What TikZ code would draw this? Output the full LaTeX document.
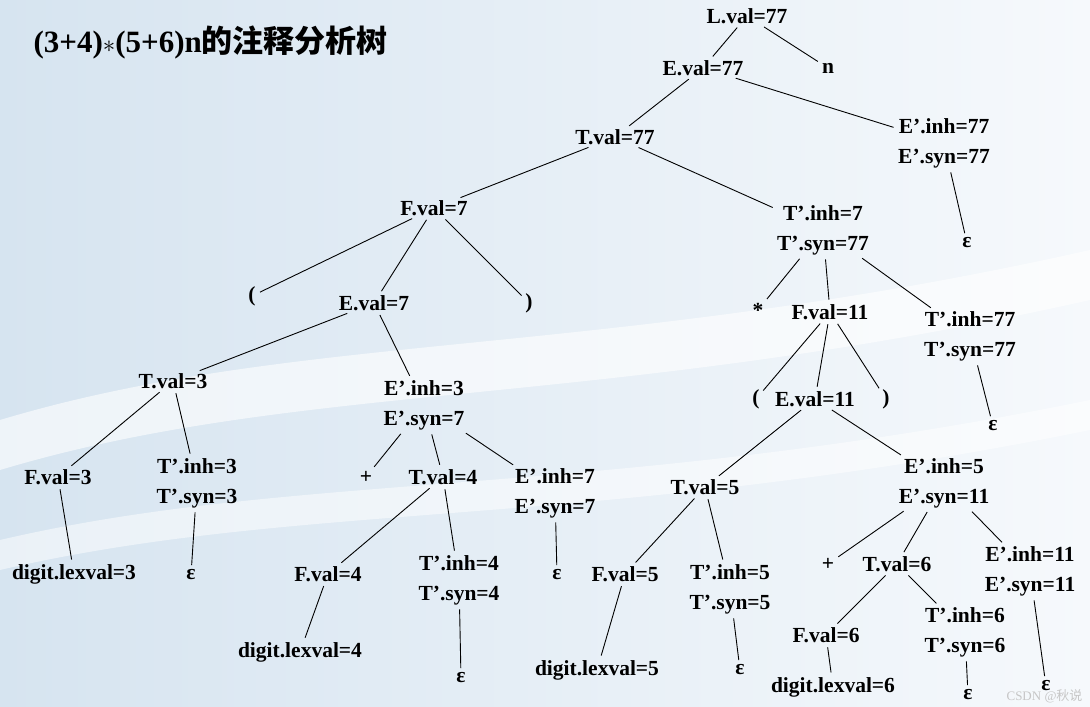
\documentclass[tikz,border=0pt]{standalone}
\usepackage{fontspec}
\setmainfont{Liberation Serif}
\newfontfamily\cjk{Noto Sans CJK SC}
\begin{document}
\begin{tikzpicture}[x=1pt,y=-1pt,
  nd/.style={font=\bfseries\fontsize{21.5}{30}\selectfont,align=center,inner sep=1.5pt},
  ln/.style={line width=0.9pt}]
\useasboundingbox (0,0) rectangle (1090,707);
\shade[left color={rgb,255:red,214;green,228;blue,240},right color={rgb,255:red,246;green,249;blue,252}] (0,0) rectangle (1090,707);
\fill[white,opacity=0.6] (0,420) .. controls (300,330) and (600,360) .. (1090,250) -- (1090,300) .. controls (600,410) and (300,380) .. (0,470) -- cycle;
\fill[white,opacity=0.5] (0,540) .. controls (300,470) and (600,500) .. (1090,400) -- (1090,430) .. controls (600,530) and (300,500) .. (0,570) -- cycle;
\node[anchor=west,font=\bfseries\fontsize{31}{34}\selectfont] (title) at (30,42) {(3+4)$\ast$(5+6)n{\cjk\bfseries 的注释分析树}};
\node[nd] (L) at (747,16) {L.val=77};
\node[nd] (n) at (828,68) {n};
\node[nd] (E) at (703,68) {E.val=77};
\node[nd] (T1) at (615,137) {T.val=77};
\node[nd] (Ep1) at (944,143) {E’.inh=77\\E’.syn=77};
\node[nd] (e1) at (967,243) {ε};
\node[nd] (F1) at (434,208) {F.val=7};
\node[nd] (Tp1) at (823,230) {T’.inh=7\\T’.syn=77};
\node[nd] (lp1) at (252,296) {(};
\node[nd] (E2) at (374,303) {E.val=7};
\node[nd] (rp1) at (529,303) {)};
\node[nd] (star) at (758,310) {*};
\node[nd] (F2) at (830,312) {F.val=11};
\node[nd] (Tp2) at (970,336) {T’.inh=77\\T’.syn=77};
\node[nd] (e2) at (993,426) {ε};
\node[nd] (T3) at (173,381) {T.val=3};
\node[nd] (Ep3) at (424,405) {E’.inh=3\\E’.syn=7};
\node[nd] (lp2) at (756,399) {(};
\node[nd] (E3) at (815,399) {E.val=11};
\node[nd] (rp2) at (886,399) {)};
\node[nd] (F3) at (58,477) {F.val=3};
\node[nd] (Tp3) at (197,483) {T’.inh=3\\T’.syn=3};
\node[nd] (pl1) at (366,477) {+};
\node[nd] (T4) at (443,477) {T.val=4};
\node[nd] (Ep4) at (555,493) {E’.inh=7\\E’.syn=7};
\node[nd] (T5) at (705,487) {T.val=5};
\node[nd] (Ep5) at (944,483) {E’.inh=5\\E’.syn=11};
\node[nd] (d3) at (74,574) {digit.lexval=3};
\node[nd] (e3) at (191,575) {ε};
\node[nd] (F4) at (328,574) {F.val=4};
\node[nd] (Tp4) at (459,580) {T’.inh=4\\T’.syn=4};
\node[nd] (e4) at (557,575) {ε};
\node[nd] (F5) at (625,574) {F.val=5};
\node[nd] (Tp5) at (730,589) {T’.inh=5\\T’.syn=5};
\node[nd] (pl2) at (828,564) {+};
\node[nd] (T6) at (897,564) {T.val=6};
\node[nd] (Ep6) at (1030,571) {E’.inh=11\\E’.syn=11};
\node[nd] (d4) at (300,652) {digit.lexval=4};
\node[nd] (e5) at (461,678) {ε};
\node[nd] (d5) at (597,670) {digit.lexval=5};
\node[nd] (e6) at (740,670) {ε};
\node[nd] (F6) at (826,635) {F.val=6};
\node[nd] (Tp6) at (965,632) {T’.inh=6\\T’.syn=6};
\node[nd] (d6) at (833,687) {digit.lexval=6};
\node[nd] (e7) at (968,695) {ε};
\node[nd] (e8) at (1046,686) {ε};
\node[anchor=south east,text=white!55!gray,font=\fontsize{13}{15}\selectfont] (wm) at (1086,706) {CSDN @{\cjk 秋说}};
\foreach \a/\b in {L/E,L/n,E/T1,E/Ep1,Ep1/e1,T1/F1,T1/Tp1,F1/lp1,F1/E2,F1/rp1,Tp1/star,Tp1/F2,Tp1/Tp2,Tp2/e2,
  E2/T3,E2/Ep3,F2/lp2,F2/E3,F2/rp2,T3/F3,T3/Tp3,F3/d3,Tp3/e3,Ep3/pl1,Ep3/T4,Ep3/Ep4,Ep4/e4,T4/F4,T4/Tp4,F4/d4,Tp4/e5,
  E3/T5,E3/Ep5,T5/F5,T5/Tp5,F5/d5,Tp5/e6,Ep5/pl2,Ep5/T6,Ep5/Ep6,T6/F6,T6/Tp6,F6/d6,Tp6/e7,Ep6/e8}
  \draw[ln,shorten <=3pt,shorten >=3pt] (\a) -- (\b);
\end{tikzpicture}
\end{document}
